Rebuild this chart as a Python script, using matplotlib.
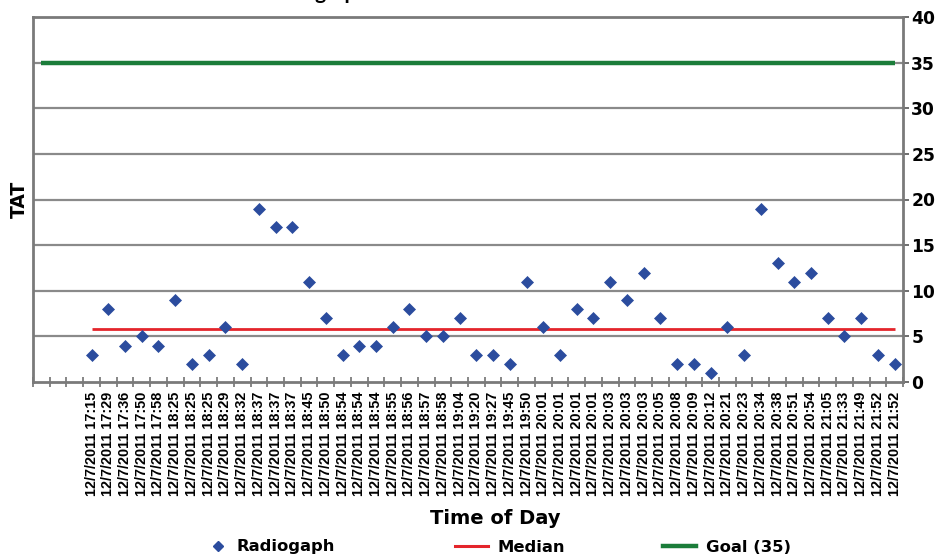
import numpy as np
import matplotlib
matplotlib.use("Agg")
import matplotlib.pyplot as plt
from matplotlib.lines import Line2D

# times of the radiograph orders (12/7/2011)
times = ["17:15", "17:29", "17:36", "17:50", "17:58", "18:25", "18:25", "18:25",
         "18:29", "18:32", "18:37", "18:37", "18:37", "18:45", "18:50", "18:54",
         "18:54", "18:54", "18:55", "18:56", "18:57", "18:58", "19:04", "19:20",
         "19:27", "19:45", "19:50", "20:01", "20:01", "20:01", "20:01", "20:03",
         "20:03", "20:03", "20:05", "20:08", "20:09", "20:12", "20:21", "20:23",
         "20:34", "20:38", "20:51", "20:54", "21:05", "21:33", "21:49", "21:52",
         "21:52"]
tat = [3, 8, 4, 5, 4, 9, 2, 3, 6, 2, 19, 17, 17, 11, 7, 3, 4, 4, 6, 8, 5, 5, 7,
       3, 3, 2, 11, 6, 3, 8, 7, 11, 9, 12, 7, 2, 2, 1, 6, 3, 19, 13, 11, 12, 7,
       5, 7, 3, 2]
median_tat = 5.8
goal = 35
n_empty = 3  # blank categories before the first order

labels = [""] * n_empty + ["12/7/2011 " + t for t in times]
n_cat = len(labels)
x_all = np.arange(n_cat)
x_data = x_all[n_empty:]

blue = "#2b4c9e"
red = "#e4252b"
green = "#1b7d3a"
gray = "#8a8a8a"
bold = {"family": "DejaVu Sans", "weight": "bold"}

fig = plt.figure(figsize=(9.35, 5.56), dpi=100)
ax = fig.add_axes([33 / 935, 1 - 382 / 556, 870 / 935, 365 / 556])

ax.set_xlim(-0.5, n_cat - 0.5)
ax.set_ylim(0, 40)

# grid lines
for yv in range(5, 40, 5):
    ax.axhline(yv, color=gray, lw=1.6, zorder=1)

ax.plot(x_all, [goal] * n_cat, color=green, lw=3.2, zorder=2, solid_capstyle="butt")
ax.plot(x_data, [median_tat] * len(x_data), color=red, lw=2.0, zorder=2,
        solid_capstyle="butt")
ax.plot(x_data, tat, ls="none", marker="D", ms=6.3, color=blue, mec=blue, mew=0.5,
        zorder=3)

for s in ax.spines.values():
    s.set_color("#7a7a7a")
    s.set_linewidth(2)

# y axis on the right
ax.yaxis.tick_right()
ax.set_yticks(range(0, 41, 5))
ax.tick_params(axis="y", which="major", direction="out", length=4, width=1.2,
               color="#555555", pad=2)
for lab in ax.get_yticklabels():
    lab.set_fontfamily("DejaVu Sans")
    lab.set_fontweight("bold")
    lab.set_fontsize(12.3)

# x axis: ticks on category borders, labels in the middle
ax.set_xticks(x_all)
ax.set_xticklabels(labels, rotation=90, fontfamily="Liberation Sans",
                   fontweight="bold", fontsize=10.4, va="top")
ax.set_xticks(np.arange(-0.5, n_cat, 1), minor=True)
ax.tick_params(axis="x", which="major", length=0, pad=7)
ax.tick_params(axis="x", which="minor", direction="inout", length=7, width=1.1,
               color="#666666")

ax.set_ylabel("TAT", fontsize=13.5, labelpad=3, **bold)
ax.yaxis.set_label_position("left")
fig.text(495 / 935, 1 - 519 / 556, "Time of Day", ha="center", va="center",
         fontsize=14, **bold)

# title is cut off at the top of the image
fig.text(262 / 935, 1.002, "Radiograph TAT", ha="left", va="baseline",
         fontfamily="Lato", fontweight="bold", fontsize=15)

# legend entries, placed one by one like the original
entries = [
    (Line2D([], [], ls="none", marker="D", ms=5, color=blue), "Radiogaph", 210),
    (Line2D([], [], color=red, lw=2.2), "Median", 455),
    (Line2D([], [], color=green, lw=3.2), "Goal (35)", 663),
]
for handle, text, xpos in entries:
    hl = 1.0 if text == "Radiogaph" else 2.0
    fig.legend([handle], [text], loc="center left",
               bbox_to_anchor=(xpos / 935, 1 - 547 / 556), frameon=False,
               prop={"family": "DejaVu Sans", "weight": "bold", "size": 11.8},
               handlelength=hl, handletextpad=0.6, borderpad=0, borderaxespad=0)

fig.savefig("out.png", dpi=100)
